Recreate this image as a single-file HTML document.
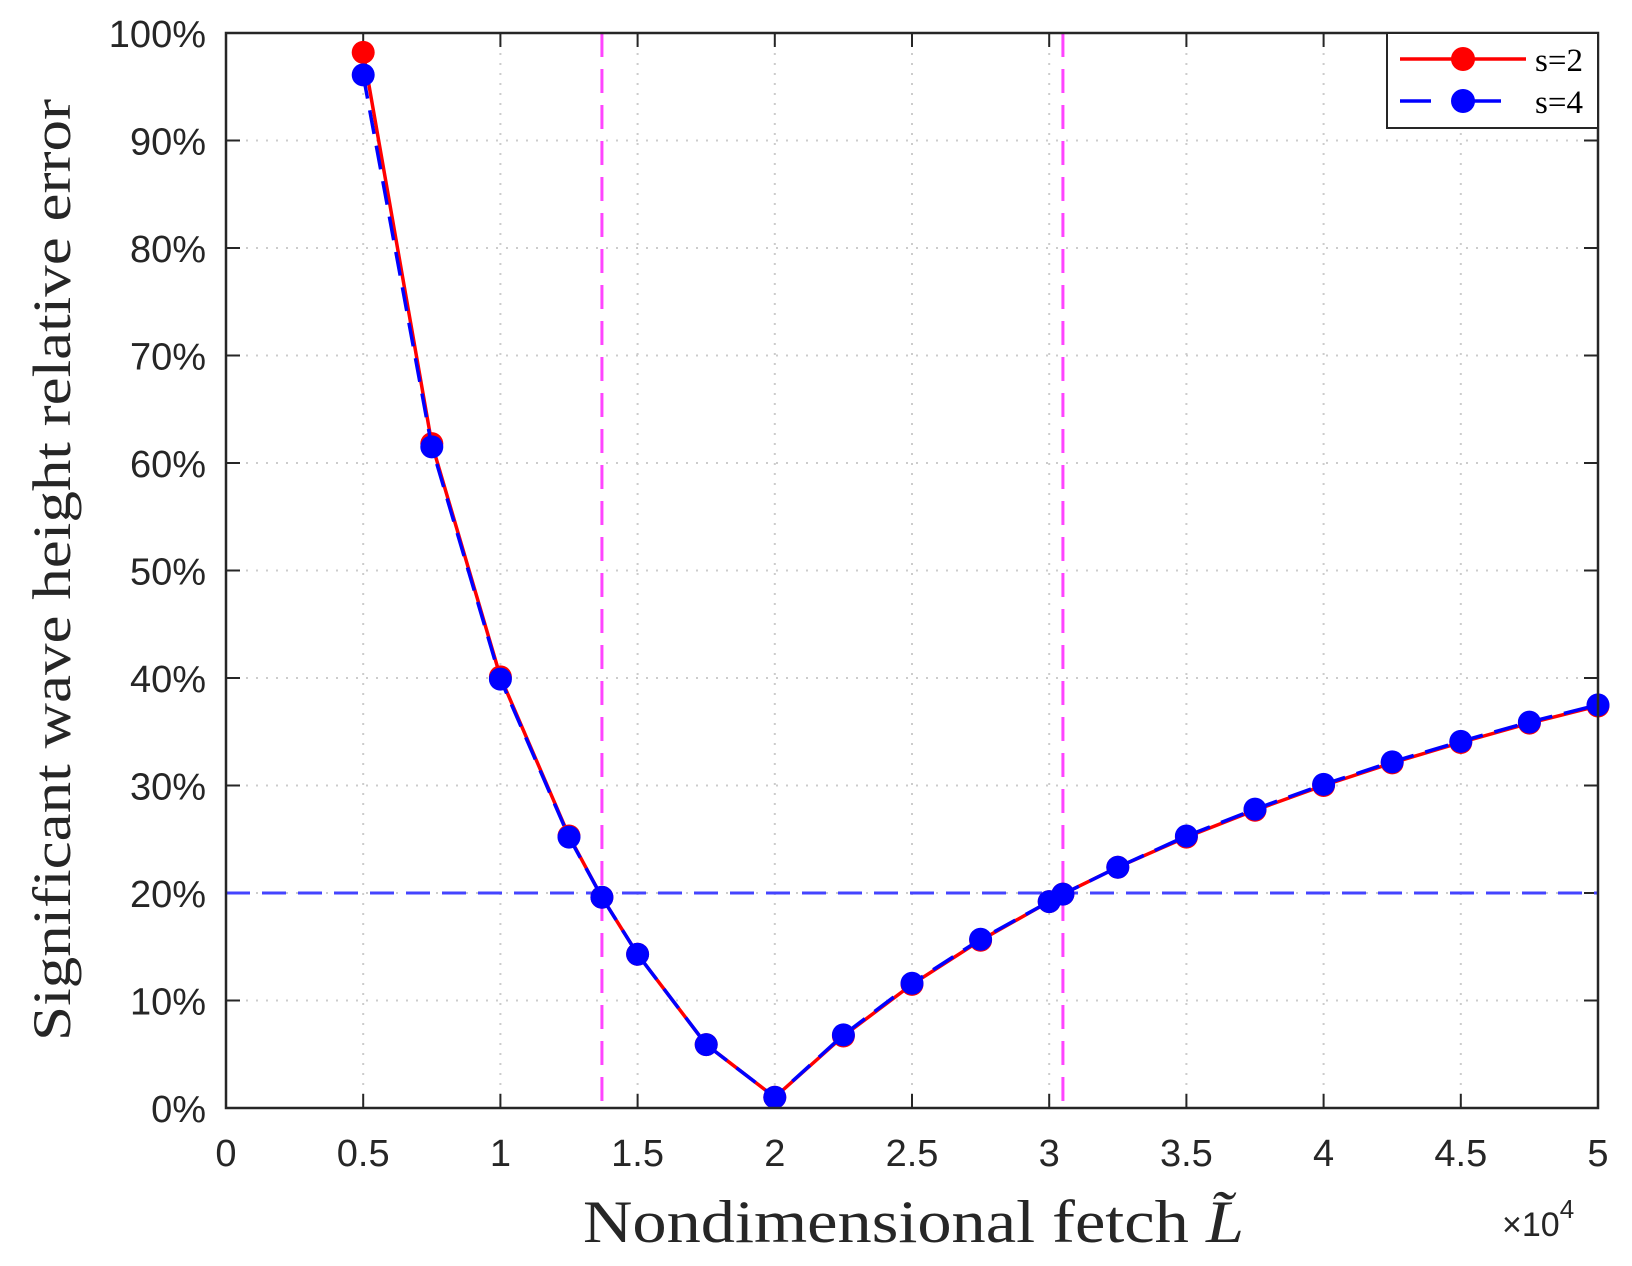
<!DOCTYPE html>
<html><head><meta charset="utf-8"><style>body{margin:0;background:#fff}svg{display:block}</style></head><body>
<svg id="s" width="1632" height="1266" viewBox="0 0 1632 1266" xmlns="http://www.w3.org/2000/svg"></svg>
<script>
const L=226,R=1598,T=33,B=1108;
const X=v=>L+(v/5)*(R-L), Y=p=>B-(p/100)*(B-T);
let h='';
for(let i=1;i<10;i++){const x=X(i*0.5);h+=`<line x1="${x}" y1="${T}" x2="${x}" y2="${B}" stroke="#ccc" stroke-width="2" stroke-dasharray="2,8"/>`;}
for(let i=1;i<10;i++){const y=Y(i*10);h+=`<line x1="${L}" y1="${y}" x2="${R}" y2="${y}" stroke="#ccc" stroke-width="2" stroke-dasharray="2,8"/>`;}
for(let i=0;i<=10;i++){const x=X(i*0.5);h+=`<line x1="${x}" y1="${B}" x2="${x}" y2="${B-14}" stroke="#262626" stroke-width="2"/><line x1="${x}" y1="${T}" x2="${x}" y2="${T+14}" stroke="#262626" stroke-width="2"/>`;
h+=`<text x="${x}" y="${B+58}" font-family="Liberation Sans,sans-serif" font-size="38" text-anchor="middle" fill="#262626">${i==0?'0':(i*0.5).toString()}</text>`;}
for(let i=0;i<=10;i++){const y=Y(i*10);h+=`<line x1="${L}" y1="${y}" x2="${L+14}" y2="${y}" stroke="#262626" stroke-width="2"/><line x1="${R}" y1="${y}" x2="${R-14}" y2="${y}" stroke="#262626" stroke-width="2"/>`;
h+=`<text x="${L-20}" y="${y+14}" font-family="Liberation Sans,sans-serif" font-size="38" text-anchor="end" fill="#262626">${i*10}%</text>`;}
h+=`<line x1="${L}" y1="${Y(20)}" x2="${R}" y2="${Y(20)}" stroke="#4444ff" stroke-width="3" stroke-dasharray="24,12"/>`;
[1.37,3.05].forEach(v=>{h+=`<line x1="${X(v)}" y1="${T}" x2="${X(v)}" y2="${B}" stroke="#ff44ff" stroke-width="3" stroke-dasharray="24,12"/>`;});
const xs=[0.5,0.75,1,1.25,1.37,1.5,1.75,2,2.25,2.5,2.75,3,3.05,3.25,3.5,3.75,4,4.25,4.5,4.75,5];
const a=[98.2,61.8,40.1,25.3,19.6,14.3,5.9,1.0,6.7,11.5,15.6,19.2,19.9,22.4,25.2,27.7,30.0,32.1,34.0,35.8,37.4];
const b=[96.1,61.5,39.9,25.2,19.6,14.3,5.9,1.0,6.8,11.6,15.7,19.2,19.9,22.4,25.3,27.8,30.1,32.2,34.1,35.9,37.5];
const pts=d=>xs.map((x,i)=>X(x)+','+Y(d[i])).join(' ');
h+=`<polyline points="${pts(a)}" fill="none" stroke="#f00" stroke-width="3.5"/>`;
xs.forEach((x,i)=>h+=`<circle cx="${X(x)}" cy="${Y(a[i])}" r="11.5" fill="#f00"/>`);
h+=`<polyline points="${pts(b)}" fill="none" stroke="#00f" stroke-width="3.5" stroke-dasharray="24,12"/>`;
xs.forEach((x,i)=>h+=`<circle cx="${X(x)}" cy="${Y(b[i])}" r="11.5" fill="#00f"/>`);
h+=`<rect x="${L}" y="${T}" width="${R-L}" height="${B-T}" fill="none" stroke="#262626" stroke-width="2.5"/>`;
h+=`<rect x="1387" y="33" width="211" height="95" fill="#fff" stroke="#262626" stroke-width="2"/>`;
h+=`<line x1="1400" y1="59" x2="1526" y2="59" stroke="#f00" stroke-width="3.5"/><circle cx="1463" cy="59" r="12" fill="#f00"/>`;
h+=`<text x="1535" y="71" font-family="Liberation Serif,serif" font-size="33" fill="#000">s=2</text>`;
h+=`<line x1="1400" y1="101" x2="1526" y2="101" stroke="#00f" stroke-width="3.5" stroke-dasharray="31,39"/><circle cx="1463" cy="101" r="12" fill="#00f"/>`;
h+=`<text x="1535" y="113" font-family="Liberation Serif,serif" font-size="33" fill="#000">s=4</text>`;
h+=`<text x="583" y="1242" textLength="661" lengthAdjust="spacingAndGlyphs" font-family="Liberation Serif,serif" font-size="60" fill="#262626">Nondimensional fetch <tspan font-style="italic">L̃</tspan></text>`;
h+=`<text x="1502" y="1236" font-family="Liberation Sans,sans-serif" font-size="34" fill="#262626">×10<tspan font-size="26" dy="-18">4</tspan></text>`;
h+=`<text transform="translate(70,570) rotate(-90)" x="-471" y="0" textLength="942" lengthAdjust="spacingAndGlyphs" font-family="Liberation Serif,serif" font-size="54" fill="#262626">Significant wave height relative error</text>`;
document.getElementById('s').innerHTML=h;
</script>
</body></html>
